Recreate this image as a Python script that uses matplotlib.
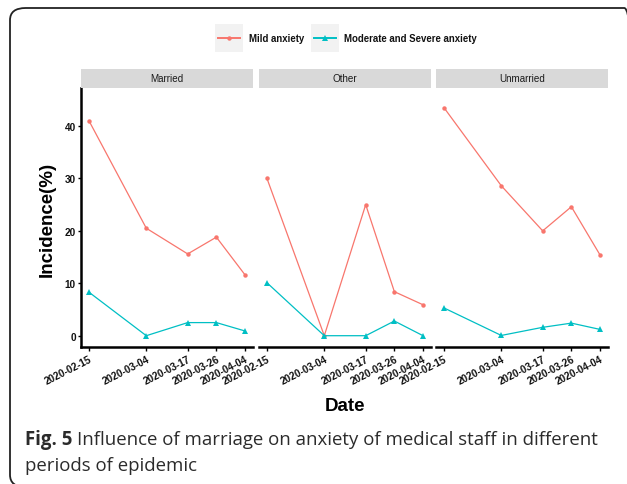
import numpy as np
import matplotlib
matplotlib.use("Agg")
import matplotlib.pyplot as plt
import matplotlib.dates as mdates
from matplotlib.patches import FancyBboxPatch
from matplotlib.lines import Line2D

# ---- data -------------------------------------------------------------
date_labels = ["2020-02-15", "2020-03-04", "2020-03-17", "2020-03-26", "2020-04-04"]
groups = ["Married", "Other", "Unmarried"]
series_names = ["Mild anxiety", "Moderate and Severe anxiety"]

married_mild = [41.0, 20.5, 15.6, 18.8, 11.6]
married_severe = [8.3, 0.0, 2.5, 2.5, 0.9]
other_mild = [30.0, 0.0, 25.0, 8.4, 5.9]
other_severe = [10.1, 0.0, 0.0, 2.8, 0.0]
unmarried_mild = [43.5, 28.6, 20.0, 24.6, 15.4]
unmarried_severe = [5.3, 0.05, 1.6, 2.4, 1.2]

y_ticks = [0, 10, 20, 30, 40]

# ---- styling ----------------------------------------------------------
W, H, DPI = 627, 485, 100
RED, TEAL = "#F8766D", "#00BFC4"
plt.rcParams["font.family"] = ["Liberation Sans", "DejaVu Sans"]

dates = mdates.date2num(np.array(date_labels, dtype="datetime64[D]"))
panel_data = {
    "Married": (married_mild, married_severe),
    "Other": (other_mild, other_severe),
    "Unmarried": (unmarried_mild, unmarried_severe),
}

fig = plt.figure(figsize=(W / DPI, H / DPI), dpi=DPI)


def rect(x0, y0, x1, y1):
    """Pixel box (top-left origin) to figure fraction rect."""
    return [x0 / W, 1 - y1 / H, (x1 - x0) / W, (y1 - y0) / H]


# rounded frame around the whole figure
frame = FancyBboxPatch((10 / W, 1 - 488 / H), 630 / W, 479 / H,
                       boxstyle="round,pad=0,rounding_size=0.025",
                       transform=fig.transFigure, fill=False,
                       edgecolor="#222222", linewidth=1.3, zorder=0)
fig.patches.append(frame)

panel_x = [(81, 253), (259, 431), (436, 608)]
panel_top, panel_bottom = 89, 348
strip_top = 70
tick_fs = 7.2

for i, (g, (x0, x1)) in enumerate(zip(groups, panel_x)):
    ax = fig.add_axes(rect(x0, panel_top, x1, panel_bottom))
    mild, severe = panel_data[g]
    ax.plot(dates, mild, color=RED, lw=0.9, marker="o", ms=3.2,
            markeredgewidth=0, zorder=3)
    ax.plot(dates, severe, color=TEAL, lw=0.9, marker="^", ms=4.0,
            markeredgewidth=0, zorder=4)
    ax.set_xlim(dates[0] - 2.5, dates[-1] + 2.5)
    ax.set_ylim(-2.155, 47.25)
    ax.set_xticks(dates)
    ax.set_xticklabels(date_labels, rotation=27, ha="right", va="top",
                       rotation_mode="anchor", fontsize=tick_fs,
                       fontweight="bold", color="#111111")
    for s in ("top", "right"):
        ax.spines[s].set_visible(False)
    ax.spines["bottom"].set_linewidth(1.8)
    ax.tick_params(axis="x", length=2.6, width=1.0, pad=1.8)
    if i == 0:
        ax.spines["left"].set_linewidth(1.8)
        ax.set_yticks(y_ticks)
        ax.set_yticklabels([str(t) for t in y_ticks], fontsize=tick_fs,
                           fontweight="bold", color="#111111")
        ax.tick_params(axis="y", length=2.2, width=1.0, pad=1.5)
    else:
        ax.spines["left"].set_visible(False)
        ax.tick_params(axis="y", left=False, labelleft=False)
    ax.set_facecolor("none")

    sax = fig.add_axes(rect(x0, strip_top, x1, panel_top))
    sax.set_facecolor("#D9D9D9")
    sax.set_xticks([])
    sax.set_yticks([])
    for s in sax.spines.values():
        s.set_visible(False)
    sax.text(0.5, 0.5, g, ha="center", va="center", fontsize=7.1,
             color="#1A1A1A", transform=sax.transAxes)

# axis titles
fig.text(344.5 / W, 1 - 407 / H, "Date", ha="center", va="center",
         fontsize=13.5, fontweight="bold")
fig.text(47 / W, 1 - 219 / H, "Incidence(%)", ha="center", va="center",
         rotation=90, fontsize=13.5, fontweight="bold")

# legend at the top
legend_items = [
    (series_names[0], RED, "o", 3.2, 215, 249),
    (series_names[1], TEAL, "^", 4.0, 311, 344),
]
for label, col, mk, ms, kx, tx in legend_items:
    kax = fig.add_axes(rect(kx, 25, kx + 28, 53))
    kax.set_facecolor("#F2F2F2")
    kax.set_xlim(0, 1)
    kax.set_ylim(0, 1)
    kax.set_xticks([])
    kax.set_yticks([])
    for s in kax.spines.values():
        s.set_visible(False)
    kax.add_line(Line2D([0.1, 0.9], [0.5, 0.5], color=col, lw=1.4))
    kax.plot([0.5], [0.5], marker=mk, ms=ms, color=col, markeredgewidth=0)
    fig.text(tx / W, 1 - 39 / H, label, ha="left", va="center",
             fontsize=6.9, fontweight="bold", color="#111111")

# caption
cap_font = ["Open Sans", "DejaVu Sans"]
cap_size = 13.4
cap_color = "#2B2B2B"
bold = fig.text(25 / W, 1 - 440 / H, "Fig. 5", ha="left", va="center",
                fontsize=cap_size, fontweight="bold", family=cap_font,
                color=cap_color)
fig.canvas.draw()
bb = bold.get_window_extent()
fig.text(bb.x1 / W + 5 / W, 1 - 440 / H,
         "Influence of marriage on anxiety of medical staff in different",
         ha="left", va="center", fontsize=cap_size, family=cap_font,
         color=cap_color)
fig.text(25 / W, 1 - 466 / H, "periods of epidemic", ha="left", va="center",
         fontsize=cap_size, family=cap_font, color=cap_color)

fig.savefig("out.png", dpi=DPI)
